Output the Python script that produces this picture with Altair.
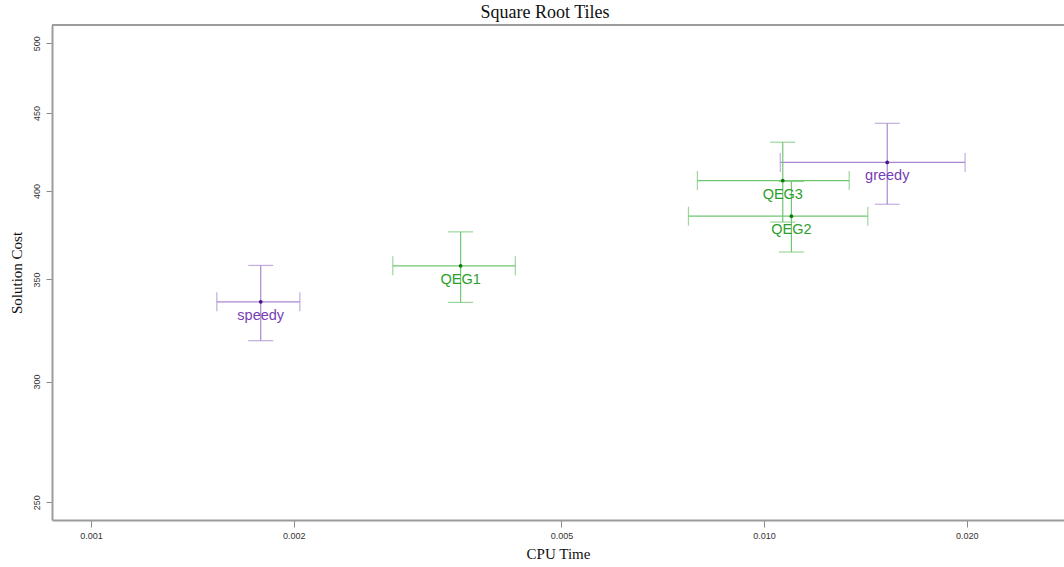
import altair as alt
import pandas as pd

# Algorithms: mean CPU time / solution cost with spread in each direction
names = ["speedy", "QEG1", "QEG3", "QEG2", "greedy"]
family = ["search", "qeg", "qeg", "qeg", "search"]
cpu = [0.001787, 0.003541, 0.01066, 0.01098, 0.01524]
cpu_lo = [0.001538, 0.002808, 0.00796, 0.00772, 0.01057]
cpu_hi = [0.002043, 0.004270, 0.01338, 0.01426, 0.01989]
cost = [338.4, 357.3, 406.4, 385.1, 417.7]
cost_lo = [319.1, 338.1, 381.7, 364.8, 392.1]
cost_hi = [357.5, 376.1, 430.6, 405.8, 443.1]

x_ticks = [0.001, 0.002, 0.005, 0.010, 0.020]
y_ticks = [250, 300, 350, 400, 450, 500]

df = pd.DataFrame({
    "name": names, "family": family,
    "cpu": cpu, "cpu_lo": cpu_lo, "cpu_hi": cpu_hi,
    "cost": cost, "cost_lo": cost_lo, "cost_hi": cost_hi,
})

W, H = 1012, 495
FRAME = "#9c9c9c"

fam_dom = ["search", "qeg"]
line_col = alt.Color("family:N", scale=alt.Scale(domain=fam_dom, range=["#a889d0", "#72c672"]), legend=None)
dot_col = alt.Color("family:N", scale=alt.Scale(domain=fam_dom, range=["#4a128c", "#0c7a0c"]), legend=None)
text_col = alt.Color("family:N", scale=alt.Scale(domain=fam_dom, range=["#7440b4", "#2d9e2d"]), legend=None)

xs = alt.Scale(type="log", domain=[0.000875, 0.0279], nice=False)
ys = alt.Scale(type="log", domain=[243.4, 514], nice=False)

x_axis = alt.Axis(values=x_ticks, format=".3f", title="CPU Time", grid=False,
                  tickSize=7, labelPadding=4, labelFontSize=9, titleFontSize=15,
                  titleFont="Liberation Serif", titleFontWeight="normal", titlePadding=6)
y_axis = alt.Axis(values=y_ticks, format="d", title="Solution Cost", grid=False,
                  tickSize=6, labelPadding=5, labelFontSize=9, labelAngle=-90,
                  labelAlign="center", labelBaseline="bottom", titleFontSize=15,
                  titleFont="Liberation Serif", titleFontWeight="normal", titlePadding=8)

base = alt.Chart(df)

# error bars and their end caps share one colour scale
x_err = base.mark_rule(strokeWidth=1.2).encode(
    x=alt.X("cpu_lo:Q", scale=xs, axis=x_axis), x2="cpu_hi:Q",
    y=alt.Y("cost:Q", scale=ys, axis=y_axis), color=line_col)
y_err = base.mark_rule(strokeWidth=1.2).encode(
    x=alt.X("cpu:Q", scale=xs), y=alt.Y("cost_lo:Q", scale=ys), y2="cost_hi:Q", color=line_col)
x_cap_lo = base.mark_tick(orient="vertical", size=19, thickness=1.2).encode(
    x=alt.X("cpu_lo:Q", scale=xs), y=alt.Y("cost:Q", scale=ys), color=line_col)
x_cap_hi = base.mark_tick(orient="vertical", size=19, thickness=1.2).encode(
    x=alt.X("cpu_hi:Q", scale=xs), y=alt.Y("cost:Q", scale=ys), color=line_col)
y_cap_lo = base.mark_tick(orient="horizontal", size=25, thickness=1.2).encode(
    x=alt.X("cpu:Q", scale=xs), y=alt.Y("cost_lo:Q", scale=ys), color=line_col)
y_cap_hi = base.mark_tick(orient="horizontal", size=25, thickness=1.2).encode(
    x=alt.X("cpu:Q", scale=xs), y=alt.Y("cost_hi:Q", scale=ys), color=line_col)

bars = alt.layer(x_err, y_err, x_cap_lo, x_cap_hi, y_cap_lo, y_cap_hi)

dots = base.mark_point(filled=True, shape="circle", size=14, opacity=1).encode(
    x=alt.X("cpu:Q", scale=xs), y=alt.Y("cost:Q", scale=ys), color=dot_col)

labels = base.mark_text(font="Liberation Sans", fontSize=14.5, dy=14, baseline="middle").encode(
    x=alt.X("cpu:Q", scale=xs), y=alt.Y("cost:Q", scale=ys), text="name:N", color=text_col)

top_edge = alt.Chart(pd.DataFrame({"k": [0]})).mark_rule(color=FRAME, strokeWidth=2).encode(
    x=alt.value(0), x2=alt.value(W), y=alt.value(0))

chart = alt.layer(
    bars, dots, labels, top_edge
).resolve_scale(color="independent").properties(
    width=W, height=H,
    autosize=alt.AutoSizeParams(type="none"),
    padding={"left": 52, "top": 25, "right": 0, "bottom": 47},
    title=alt.Title("Square Root Tiles", font="Liberation Serif", fontSize=18,
                    fontWeight="normal", color="#111", offset=2, dx=-13),
).configure_view(stroke=None).configure_axis(
    domainColor=FRAME, domainWidth=2, tickColor="#8a8a8a", labelColor="#333",
    labelFont="Liberation Sans", titleColor="#111"
)

chart.save("out.html", embed_options={"renderer": "svg", "actions": False})
